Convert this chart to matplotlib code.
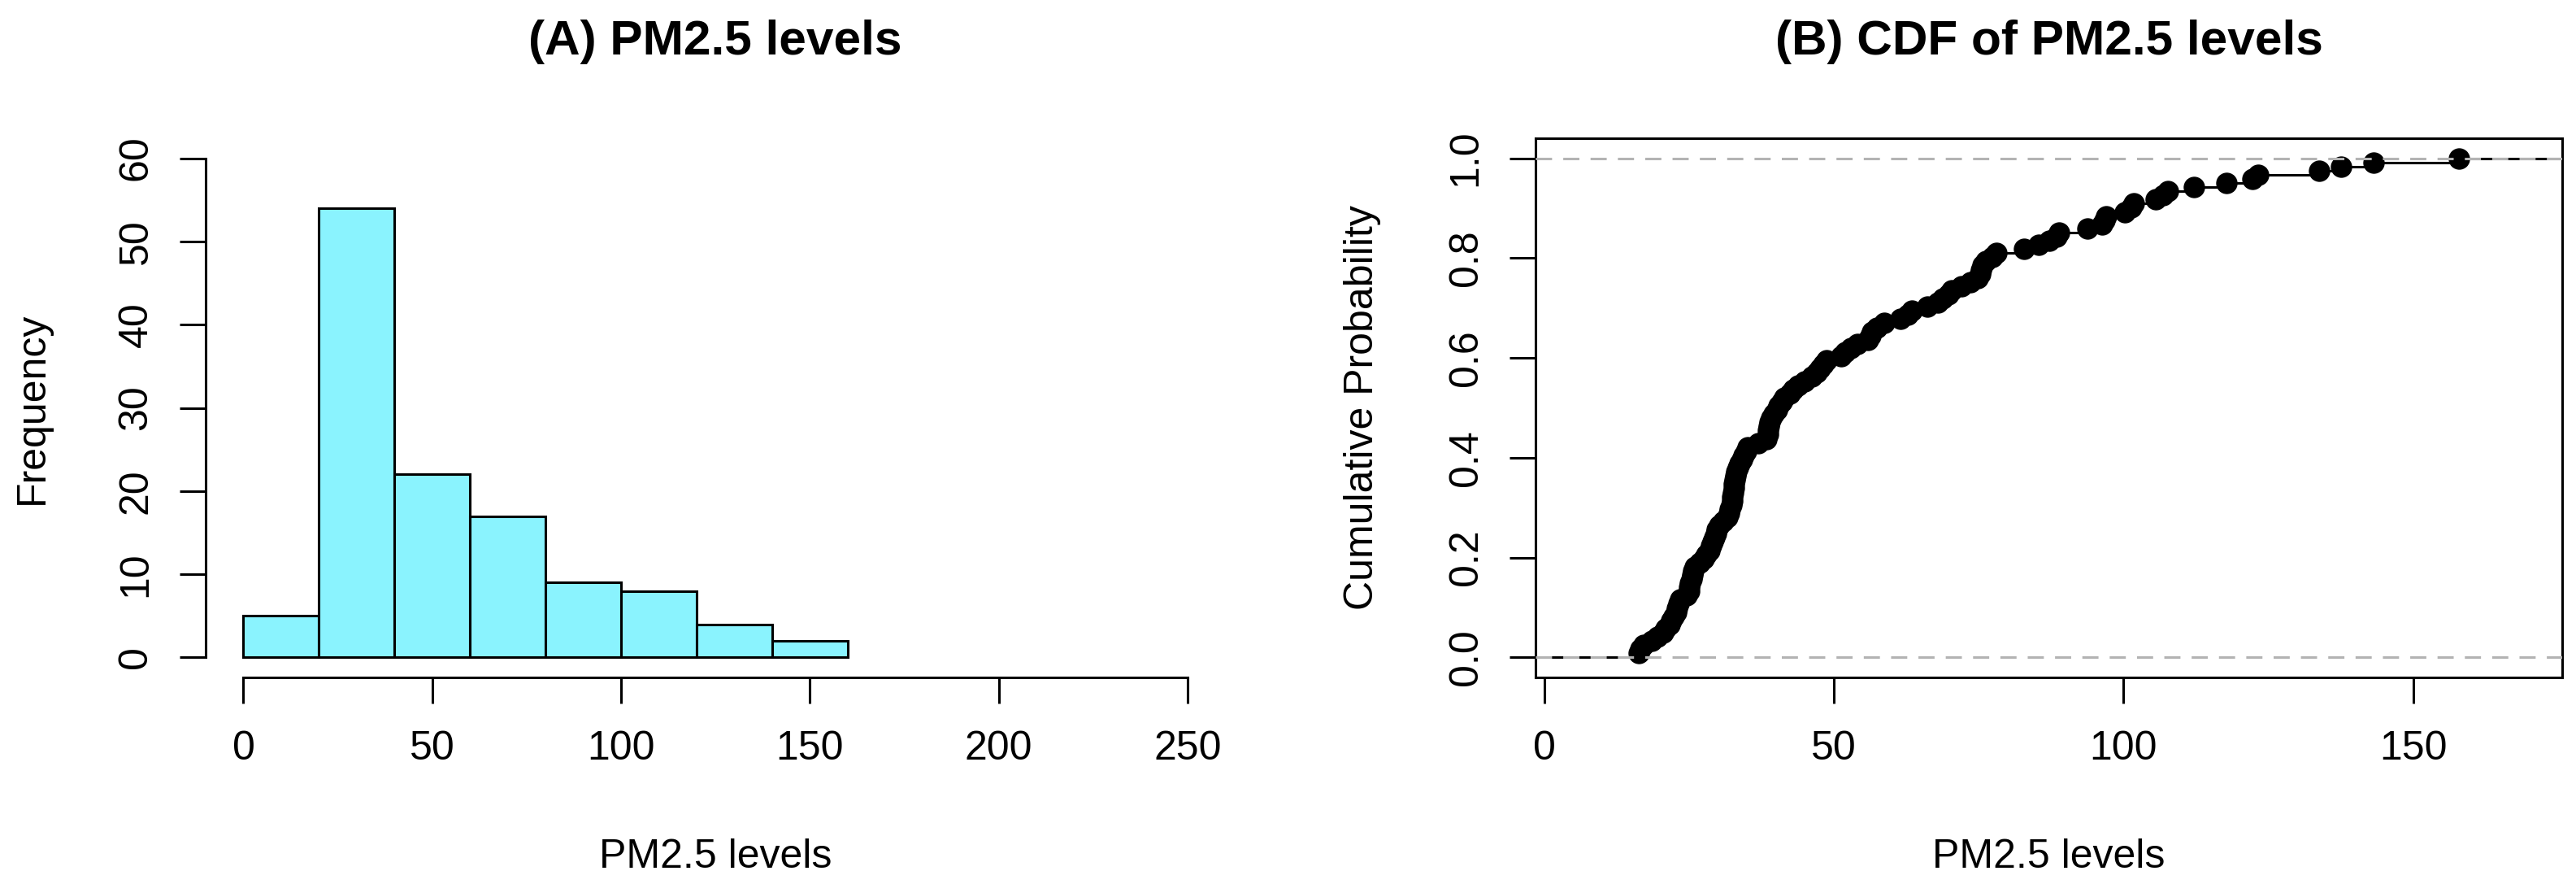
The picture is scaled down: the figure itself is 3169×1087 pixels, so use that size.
import numpy as np
import matplotlib
matplotlib.use("Agg")
import matplotlib.pyplot as plt
import matplotlib.transforms as mtransforms

plt.rcParams['font.family'] = ['Liberation Sans', 'DejaVu Sans']

# ---- data (sorted PM2.5 observations read from the ECDF) ----
pm25 = [
    16.4, 16.6, 17.2, 18.6, 19.6,
    20.5, 21.0, 21.6, 22.0, 22.4, 22.8, 23.0, 23.2, 23.5, 24.6,
    25.0, 25.1, 25.2, 25.4, 25.6, 25.8, 26.0, 26.8, 27.6, 28.0,
    28.5, 28.8, 29.1, 29.4, 29.6, 29.8, 30.2, 30.9, 31.6, 31.9,
    32.1, 32.3, 32.4, 32.5, 32.6, 32.7, 32.8, 32.9, 33.0, 33.2,
    33.4, 33.8, 34.2, 34.5, 34.8, 35.2, 37.0, 38.4, 38.6, 38.7,
    38.8, 38.9, 39.2, 39.6,
    40.2, 40.5, 41.0, 41.5, 42.4, 43.0, 43.8, 45.0, 46.2, 47.0,
    47.6, 48.2, 48.7, 51.2, 52.0, 53.0, 54.0, 55.9, 56.3, 56.6,
    57.5, 58.7,
    61.5, 62.8, 63.5, 66.2, 68.0, 68.8, 69.8, 70.3, 72.0, 73.5,
    74.8, 75.2, 75.4, 75.6, 76.2, 77.3, 78.1,
    82.8, 85.3, 87.2, 88.5, 88.8, 93.8, 96.3, 96.7, 97.0,
    100.2, 101.3, 101.7, 105.6, 106.8, 107.6, 112.1, 117.7,
    122.2, 123.2, 133.7, 137.5,
    143.1, 157.8,
]
hist_breaks = [0, 20, 40, 60, 80, 100, 120, 140, 160]
hist_xticks = [0, 50, 100, 150, 200, 250]
hist_yticks = [0, 10, 20, 30, 40, 50, 60]
cdf_xticks = [0, 50, 100, 150]
cdf_yticks = [0.0, 0.2, 0.4, 0.6, 0.8, 1.0]
cdf_yticklabels = ["0.0", "0.2", "0.4", "0.6", "0.8", "1.0"]

W, H = 3169, 1087
fig = plt.figure(figsize=(W / 100, H / 100), dpi=100)

LW = 2.2
FS = 36
TFS = 43.5
TICKLEN = 23
PAD = 22

def region(x0, x1, ytop, ybot):
    return [x0 / W, (H - ybot) / H, (x1 - x0) / W, (ybot - ytop) / H]

ax1 = fig.add_axes(region(253, 1507.5, 170, 833))
ax2 = fig.add_axes(region(1889, 3152, 170, 833))

# ---------- (A) histogram ----------
ax1.hist(pm25, bins=hist_breaks, color="#8AF3FE", edgecolor="black", linewidth=LW)
ax1.set_xlim(-10, 260)
ax1.set_ylim(-2.4, 62.4)
for s in ("top", "right"):
    ax1.spines[s].set_visible(False)
ax1.spines["left"].set_bounds(0, 60)
ax1.spines["bottom"].set_bounds(0, 250)
ax1.set_xticks(hist_xticks)
ax1.set_yticks(hist_yticks)
ax1.set_yticklabels([str(v) for v in hist_yticks], rotation=90, va="center")

# ---------- (B) ECDF ----------
x = np.sort(np.array(pm25))
n = len(x)
Fy = np.arange(1, n + 1) / n
rng = x[-1] - x[0]
dr = max(0.08 * rng, np.median(np.diff(x)))
xl = (x[0] - dr, x[-1] + dr)
ext = 0.04 * (xl[1] - xl[0])
xlo, xhi = xl[0] - ext, xl[1] + ext
ax2.set_xlim(xlo, xhi)
ax2.set_ylim(-0.04, 1.04)

ax2.hlines([0.0], xlo - 10, x[0], color="black", linewidth=LW, zorder=2)
ax2.hlines(Fy[:-1], x[:-1], x[1:], color="black", linewidth=LW, zorder=2)
ax2.hlines([1.0], x[-1], xhi + 10, color="black", linewidth=LW, zorder=2)
ax2.plot(x, Fy, "o", color="black", markersize=18, zorder=3)
for h in (0.0, 1.0):
    ax2.axhline(h, color="#B3B3B3", linewidth=LW, linestyle=(0, (6.5, 4.5)), zorder=4)

ax2.set_xticks(cdf_xticks)
ax2.set_yticks(cdf_yticks)
ax2.set_yticklabels(cdf_yticklabels, rotation=90, va="center")

for ax in (ax1, ax2):
    for s in ax.spines.values():
        s.set_linewidth(LW)
    ax.tick_params(direction="out", length=TICKLEN, width=LW, labelsize=FS, pad=PAD)
    ax.tick_params(axis="x", pad=PAD + 2)

# titles
ax1.set_title("(A) PM2.5 levels", fontsize=TFS, fontweight="bold", pad=74)
ax2.set_title("(B) CDF of PM2.5 levels", fontsize=TFS, fontweight="bold", pad=74)

# axis labels, placed like R's mtext lines
for ax in (ax1, ax2):
    tr = mtransforms.blended_transform_factory(ax.transAxes, fig.transFigure)
    ax.text(0.5, (H - 1067) / H, "PM2.5 levels", transform=tr, fontsize=FS,
            ha="center", va="baseline")

tr1 = mtransforms.blended_transform_factory(fig.transFigure, ax1.transAxes)
ax1.text(53 / W, 0.5, "Frequency", transform=tr1, fontsize=FS, rotation=90,
         rotation_mode="anchor", ha="center", va="baseline")
tr2 = mtransforms.blended_transform_factory(fig.transFigure, ax2.transAxes)
ax2.text(1689 / W, 0.5, "Cumulative Probability", transform=tr2, fontsize=FS,
         rotation=90, rotation_mode="anchor", ha="center", va="baseline")

fig.savefig("out.png", dpi=100)
